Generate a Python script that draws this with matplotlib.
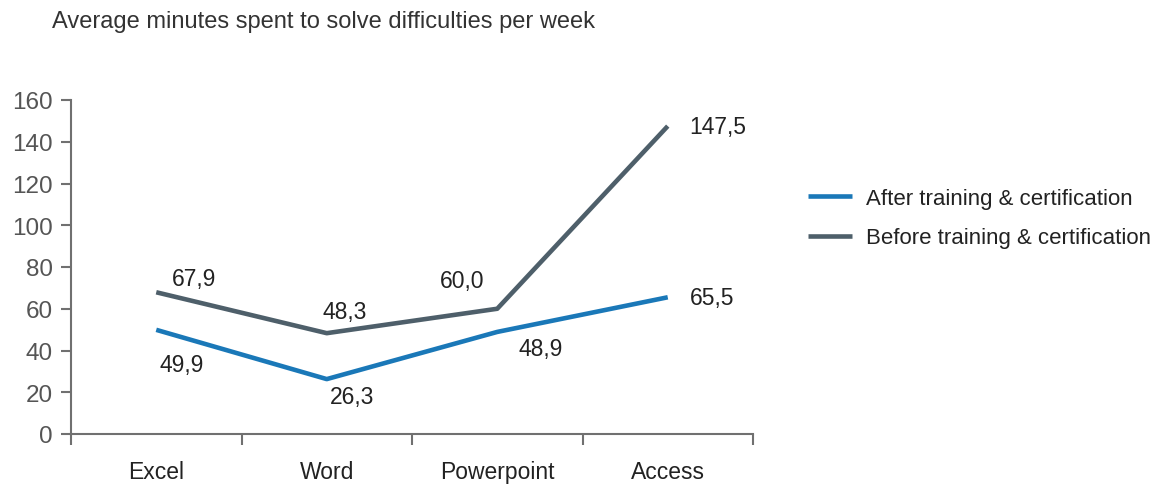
import numpy as np
import matplotlib
matplotlib.use('Agg')
from matplotlib import pyplot as plt

plt.rcParams['font.family'] = ['Liberation Sans', 'DejaVu Sans']

categories = ['Excel', 'Word', 'Powerpoint', 'Access']
after = [49.9, 26.3, 48.9, 65.5]
before = [67.9, 48.3, 60.0, 147.5]
after_labels = ['49,9', '26,3', '48,9', '65,5']
before_labels = ['67,9', '48,3', '60,0', '147,5']

# label offsets in pixels (x, y)
after_off = [(25, -35), (25, -17), (43, -17), (44, 0)]
before_off = [(38, 14), (18, 22), (-35, 28), (50, 0)]

blue = '#1a78b8'
grey = '#4e5f6a'
axis_col = '#707070'

fig = plt.figure(figsize=(11.63, 4.85), dpi=100)
ax = fig.add_axes([71 / 1163, 1 - 435 / 485, (753 - 71) / 1163, (435 - 101) / 485])

x = np.arange(len(categories))
ax.plot(x, after, color=blue, lw=3.3, label='After training & certification', solid_capstyle='butt')
ax.plot(x, before, color=grey, lw=3.3, label='Before training & certification', solid_capstyle='butt')

for i in range(len(categories)):
    ax.annotate(after_labels[i], (x[i], after[i]), textcoords='offset pixels', xytext=after_off[i],
                ha='center', va='center', fontsize=16.5, color='#222222')
    ax.annotate(before_labels[i], (x[i], before[i]), textcoords='offset pixels', xytext=before_off[i],
                ha='center', va='center', fontsize=16.5, color='#222222')

ax.set_xlim(-0.5, 3.5)
ax.set_ylim(0, 160)
ax.set_yticks(np.arange(0, 161, 20))
ax.set_xticks(np.arange(-0.5, 3.6, 1))
ax.set_xticklabels([])
ax.set_xticks(x, minor=True)
ax.set_xticklabels(categories, minor=True)
ax.tick_params(axis='x', which='minor', length=0, pad=19, labelsize=16.5, labelcolor='#222222')
ax.tick_params(axis='x', which='major', length=8, width=1.5, color=axis_col, direction='out')
ax.tick_params(axis='y', length=7, width=1.5, color=axis_col, direction='out', pad=6,
               labelsize=17.5, labelcolor='#555555')

for s in ['top', 'right']:
    ax.spines[s].set_visible(False)
for s in ['left', 'bottom']:
    ax.spines[s].set_color(axis_col)
    ax.spines[s].set_linewidth(1.5)

fig.text(52 / 1163, 1 - 22 / 485, 'Average minutes spent to solve difficulties per week',
         fontsize=17, color='#333333', va='center', ha='left')

fig.legend(loc='center left', bbox_to_anchor=(788 / 1163, 1 - 219 / 485), frameon=False,
           fontsize=16, handlelength=2.0, handletextpad=0.6, labelspacing=0.85,
           labelcolor='#222222')

plt.savefig('out.png', dpi=100)
